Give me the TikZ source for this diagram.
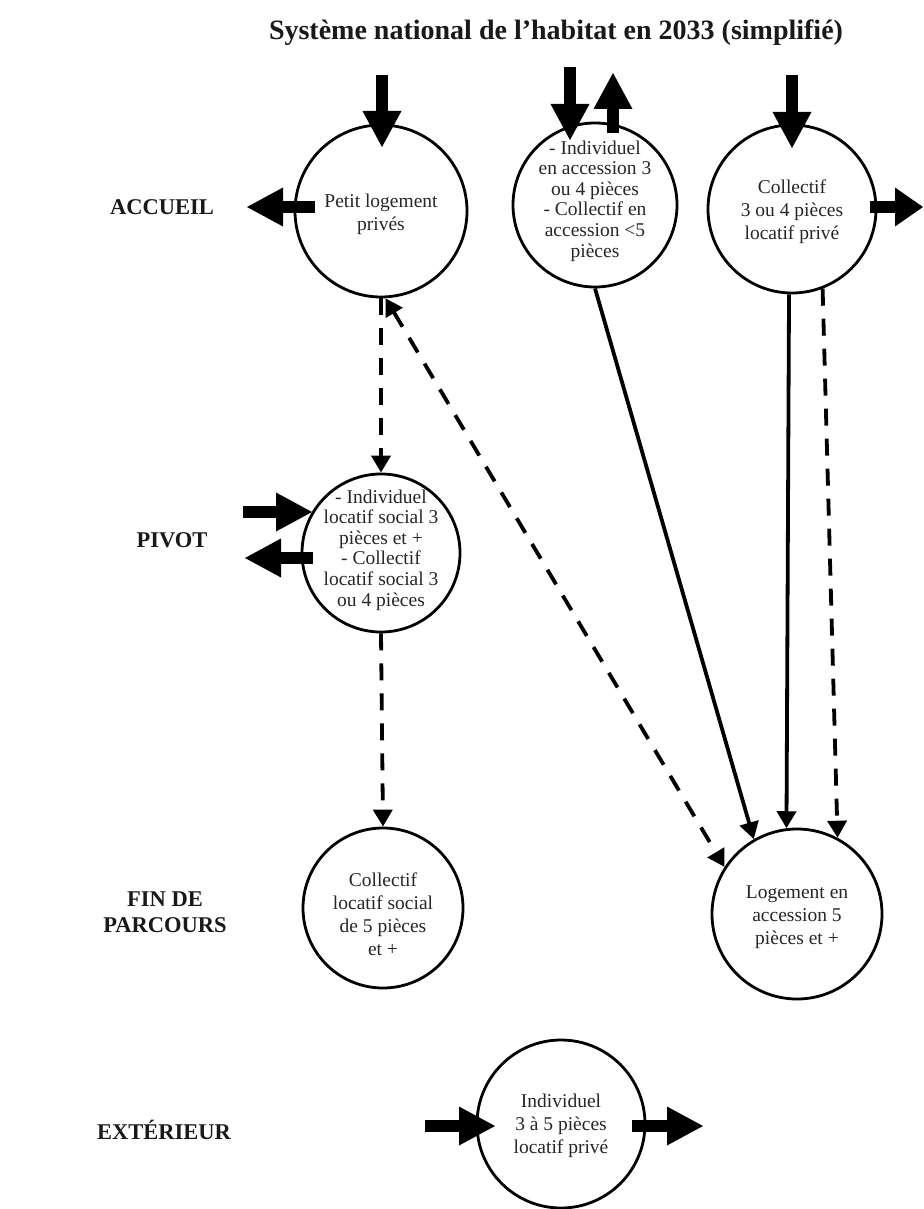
\documentclass[tikz,border=0pt]{standalone}
\usepackage{fontspec}
\setmainfont{Liberation Serif}
\usetikzlibrary{arrows.meta}
\begin{document}
\begin{tikzpicture}[x=1pt,y=-1pt,
  circ/.style={circle,draw=black,line width=2.8pt,minimum size=#1,inner sep=0pt},
  ctext/.style={align=center,font=\fontsize{19.5}{23}\selectfont,text=black!85,inner sep=0pt},
  ctight/.style={ctext,font=\fontsize{19.5}{20.6}\selectfont},
  lab/.style={font=\fontsize{22.5}{26}\selectfont\bfseries,align=center,text=black!90,inner sep=0pt},
  fat/.style={line width=11.5pt,-{Triangle[length=36pt,width=39pt,line width=0pt]}},
  conn/.style={line width=3.8pt,-{Triangle[length=17pt,width=19pt]}},
  dconn/.style={conn,dash pattern=on 17pt off 13pt},
]
\fill[white] (0,0) rectangle (923,1209);
\useasboundingbox (0,0) rectangle (923,1209);

% title
\node[font=\fontsize{28}{32}\selectfont\bfseries,text=black!90] (title) at (556,33) {Système national de l’habitat en 2033 (simplifié)};

% row labels
\node[lab] (lA) at (162,207) {ACCUEIL};
\node[lab] (lP) at (172,540) {PIVOT};
\node[lab] (lF) at (165,912) {FIN DE\\PARCOURS};
\node[lab] (lE) at (164,1130) {EXTÉRIEUR};

% circles
\node[circ=172pt] (c1) at (381,211) {};
\node[ctext] (t1) at (381,214) {Petit logement\\privés};
\node[circ=164pt] (c2) at (595,205) {};
\node[ctight] (t2) at (595,201) {- Individuel\\en accession 3\\ou 4 pièces\\- Collectif en\\accession <5\\pièces};
\node[circ=168pt] (c3) at (792,209) {};
\node[ctext] (t3) at (792,212) {Collectif\\3 ou 4 pièces\\locatif privé};
\node[circ=158pt] (piv) at (381,553) {};
\node[ctight] (tp) at (381,550) {- Individuel\\locatif social 3\\pièces et +\\- Collectif\\locatif social 3\\ou 4 pièces};
\node[circ=160pt] (c5) at (383,908) {};
\node[ctext] (t5) at (383,914) {Collectif\\locatif social\\de 5 pièces\\et +};
\node[circ=170pt] (c6) at (797,914) {};
\node[ctext] (t6) at (797,917) {Logement en\\accession 5\\pièces et +};
\node[circ=168pt] (c7) at (561,1124) {};
\node[ctext] (t7) at (561,1126) {Individuel\\3 à 5 pièces\\locatif privé};

% connectors
\draw[dconn] (c1.south) -- (piv.north);
\draw[dconn] (piv.south) -- (c5.north);
\draw[dconn,{Triangle[length=17pt,width=19pt]}-{Triangle[length=17pt,width=19pt]}] (c1.273) -- (c6.147);
\draw[conn] (c2.south) -- (c6.120);
\draw[conn] (c3.268) -- (c6.97);
\draw[dconn] (c3.291) -- (c6.62);

% fat arrows (free ends)
\coordinate (a1s) at (382,75);  \coordinate (a1e) at (382,147);
\coordinate (a2s) at (315,207); \coordinate (a2e) at (247,207);
\coordinate (a3s) at (570,67);  \coordinate (a3e) at (570,140);
\coordinate (a4s) at (613,133); \coordinate (a4e) at (613,73);
\coordinate (a5s) at (792,75);  \coordinate (a5e) at (792,148);
\coordinate (a6s) at (870,207); \coordinate (a6e) at (923,207);
\coordinate (a7s) at (243,512); \coordinate (a7e) at (312,512);
\coordinate (a8s) at (313,558); \coordinate (a8e) at (245,558);
\coordinate (a9s) at (425,1126); \coordinate (a9e) at (495,1126);
\coordinate (a10s) at (632,1126); \coordinate (a10e) at (703,1126);
\draw[fat] (a1s) -- (a1e);
\draw[fat] (a2s) -- (a2e);
\draw[fat] (a3s) -- (a3e);
\draw[fat] (a4s) -- (a4e);
\draw[fat] (a5s) -- (a5e);
\draw[line width=11.5pt,-{Triangle[length=28pt,width=39pt,line width=0pt]}] (a6s) -- (a6e);
\draw[fat] (a7s) -- (a7e);
\draw[fat] (a8s) -- (a8e);
\draw[fat] (a9s) -- (a9e);
\draw[fat] (a10s) -- (a10e);
\end{tikzpicture}
\end{document}
